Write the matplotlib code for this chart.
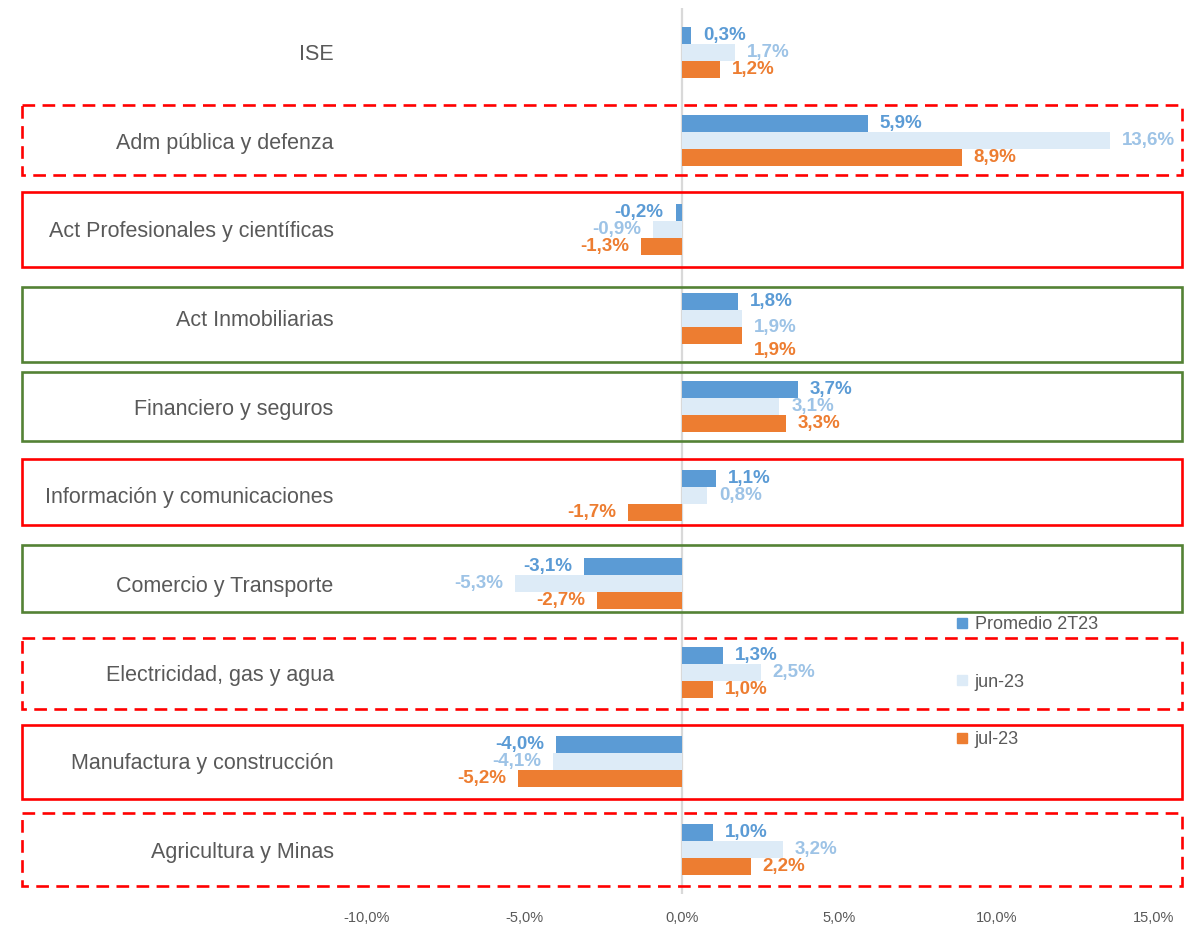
import numpy as np
import matplotlib
matplotlib.use('Agg')
import matplotlib.pyplot as plt
import matplotlib.transforms as mtransforms
from matplotlib.patches import Rectangle
from matplotlib.lines import Line2D

plt.rcParams['font.family'] = ['Liberation Sans', 'DejaVu Sans']

categories = ['ISE', 'Adm pública y defenza', 'Act Profesionales y científicas',
              'Act Inmobiliarias', 'Financiero y seguros', 'Información y comunicaciones',
              'Comercio y Transporte', 'Electricidad, gas y agua',
              'Manufactura y construcción', 'Agricultura y Minas']
promedio = [0.3, 5.9, -0.2, 1.8, 3.7, 1.1, -3.1, 1.3, -4.0, 1.0]
jun23 = [1.7, 13.6, -0.9, 1.9, 3.1, 0.8, -5.3, 2.5, -4.1, 3.2]
jul23 = [1.2, 8.9, -1.3, 1.9, 3.3, -1.7, -2.7, 1.0, -5.2, 2.2]
series_names = ['Promedio 2T23', 'jun-23', 'jul-23']

bar_colors = ['#5B9BD5', '#DDEBF7', '#ED7D31']
lab_colors = ['#5B9BD5', '#9DC3E6', '#ED7D31']

# boxes: (category index, colour, linestyle, pad above, pad below)
boxes = [
    (1, '#FF0000', 'dashed', 0.40, 0.38),
    (2, '#FF0000', 'solid', 0.42, 0.42),
    (3, '#548235', 'solid', 0.35, 0.49),
    (4, '#548235', 'solid', 0.39, 0.39),
    (5, '#FF0000', 'solid', 0.41, 0.34),
    (6, '#548235', 'solid', 0.44, 0.32),
    (7, '#FF0000', 'dashed', 0.39, 0.41),
    (8, '#FF0000', 'solid', 0.41, 0.43),
    (9, '#FF0000', 'dashed', 0.41, 0.41),
]
# manual label nudges (pixels, downward) like in the original sheet
nudges = {(3, 1): 9, (3, 2): 15}

W, H = 1196, 926
fig = plt.figure(figsize=(W / 100, H / 100), dpi=100)
ax = fig.add_axes([367 / W, (H - 894) / H, (1154 - 367) / W, 886 / H])

y = np.arange(len(categories))
bh = 0.192
data = [promedio, jun23, jul23]
for k, vals in enumerate(data):
    yy = y + (k - 1) * bh
    ax.barh(yy, vals, height=bh, color=bar_colors[k], zorder=2)
    for i, v in enumerate(vals):
        txt = f'{v:.1f}'.replace('.', ',') + '%'
        dy = -nudges.get((i, k), 0) * 0.72
        ax.annotate(txt, (v, yy[i]), xytext=(8.5 if v >= 0 else -8.5, dy),
                    textcoords='offset points', ha='left' if v >= 0 else 'right',
                    va='center', fontsize=13.5, fontweight='bold', color=lab_colors[k])

ax.axvline(0, color='#D9D9D9', lw=1.6, zorder=1)
ax.set_xlim(-10, 15)
ax.set_ylim(len(categories) - 0.5, -0.5)
ax.set_xticks([-10, -5, 0, 5, 10, 15])
ax.set_xticklabels([f'{t:.1f}'.replace('.', ',') + '%' for t in [-10, -5, 0, 5, 10, 15]])
ax.set_yticks(y)
ax.set_yticklabels(categories)
ax.tick_params(axis='x', length=0, pad=12, labelsize=10.5, labelcolor='#595959')
ax.tick_params(axis='y', length=0, pad=24, labelsize=15.5, labelcolor='#595959')
for s in ax.spines.values():
    s.set_visible(False)

trans = mtransforms.blended_transform_factory(fig.transFigure, ax.transData)
for idx, col, ls, up, down in boxes:
    style = (0, (4.8, 2.8)) if ls == 'dashed' else '-'
    r = Rectangle((22 / W, idx - up), (1182 - 22) / W, up + down, transform=trans,
                  fill=False, edgecolor=col, lw=1.9, ls=style, clip_on=False, zorder=3)
    ax.add_patch(r)

handles = [Line2D([], [], marker='s', ls='none', markersize=7, color=c) for c in bar_colors]
leg = ax.legend(handles, series_names, loc='upper left',
                bbox_to_anchor=(946 / W, (H - 607) / H), bbox_transform=fig.transFigure,
                frameon=False, fontsize=13, labelspacing=2.25, handlelength=0.8,
                handletextpad=0.3, borderpad=0)
for t in leg.get_texts():
    t.set_color('#595959')

fig.savefig('out.png', dpi=100)
